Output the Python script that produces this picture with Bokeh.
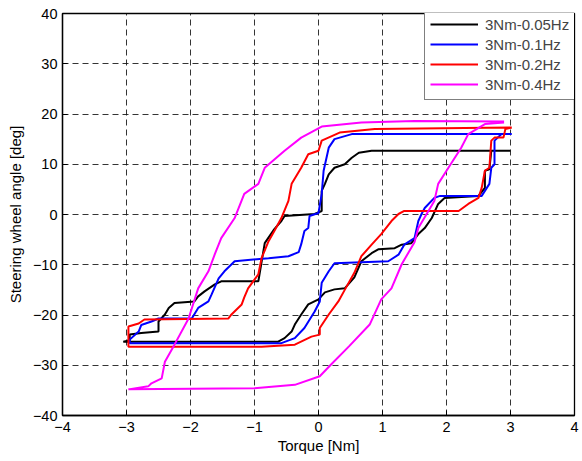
from bokeh.plotting import figure
from bokeh.models import Range1d, FixedTicker, Legend, LegendItem
from bokeh.embed import file_html
from bokeh.resources import INLINE

# ---- data ----
black_x = [3.0, 0.83, 0.63, 0.52, 0.41, 0.25, 0.16, 0.10, 0.05, 0.05, -0.06, -0.53, -0.58, -0.69, -0.84, -0.94,
           -1.52, -1.62, -1.78, -1.88, -1.94, -2.25, -2.34, -2.40, -2.50, -2.50, -2.77, -2.95, -2.95, -3.05,
           -0.63, -0.53, -0.42, -0.37, -0.27, -0.16, 0.0, 0.10, 0.25, 0.41, 0.56, 0.67, 0.83, 0.94, 1.19, 1.30,
           1.45, 1.56, 1.66, 1.77, 1.87, 1.97, 2.50, 2.60, 2.60, 2.67, 2.70, 3.0]
black_y = [12.7, 12.7, 12.3, 11.3, 10.0, 9.3, 8.0, 6.1, 4.7, 0.7, 0.1, -0.3, -1.3, -2.9, -5.7, -13.3,
           -13.3, -13.9, -15.3, -16.3, -17.3, -17.6, -18.6, -19.9, -21.3, -23.3, -23.6, -23.9, -25.0, -25.3,
           -25.3, -24.6, -23.3, -21.9, -19.9, -17.9, -16.9, -15.5, -14.9, -14.7, -12.5, -9.3, -7.7, -6.9, -6.7, -6.0,
           -5.7, -3.9, -2.7, -0.7, 2.1, 3.3, 3.7, 5.3, 8.7, 9.0, 12.7, 12.7]

blue_x = [3.02, 0.52, 0.25, 0.16, 0.08, 0.05, 0.0, -0.14, -0.16, -0.22, -0.27, -0.31, -0.47, -0.78, -1.31,
          -1.47, -1.56, -1.67, -1.72, -1.88, -1.98, -2.5, -2.61, -2.77, -2.81, -2.95, -2.95,
          -0.58, -0.37, -0.22, -0.06, 0.02, 0.05, 0.16, 0.25, 1.09, 1.25, 1.34, 1.5, 1.56, 1.61, 1.66, 1.81,
          1.9, 2.55, 2.6, 2.67, 2.7, 2.75, 2.75, 2.86, 3.02]
blue_y = [16.0, 16.0, 15.0, 13.3, 8.7, 4.1, 0.3, -0.3, -2.7, -3.3, -5.9, -7.5, -8.3, -8.7, -9.3,
          -11.3, -12.7, -15.9, -17.3, -18.6, -20.7, -20.7, -21.3, -22.0, -23.3, -24.9, -25.6,
          -25.6, -24.6, -22.6, -19.3, -17.3, -13.6, -11.3, -9.7, -9.3, -8.0, -6.0, -4.7, -1.3, 0.1, 1.3, 3.3,
          3.7, 3.7, 4.7, 6.1, 9.3, 10.0, 14.7, 16.0, 16.0]

red_x = [3.02, 0.88, 0.33, 0.05, 0.0, -0.16, -0.27, -0.42, -0.47, -0.58, -0.69, -0.78, -0.89, -0.94, -1.1,
         -1.16, -1.2, -1.36, -1.41, -2.72, -2.81, -2.97, -2.97,
         -0.89, -0.37, -0.11, 0.02, 0.02, 0.16, 0.31, 0.41, 0.56, 0.67, 0.83, 0.98, 1.14, 1.25, 1.34, 2.19,
         2.34, 2.5, 2.55, 2.6, 2.67, 2.7, 2.75, 2.89, 2.92, 3.02]
red_y = [17.3, 17.0, 16.3, 14.7, 12.7, 12.0, 9.3, 6.1, 2.7, -0.7, -3.3, -5.3, -8.7, -11.9, -14.7,
         -16.5, -17.9, -19.9, -20.7, -20.9, -21.7, -22.3, -26.3,
         -26.3, -25.9, -24.3, -23.9, -22.6, -19.9, -17.3, -15.0, -11.6, -8.3, -6.0, -3.9, -1.3, 0.1, 0.7, 0.7,
         2.1, 3.3, 5.3, 8.7, 9.3, 14.7, 15.3, 15.3, 17.0, 17.3]

magenta_x = [2.9, 1.5, 0.67, 0.05, -0.27, -0.53, -0.84, -0.94, -1.16, -1.31, -1.52, -1.62, -1.72, -1.88,
             -2.03, -2.25, -2.4, -2.45, -2.61, -2.66, -2.97,
             -1.0, -0.37, 0.02, 0.2, 0.48, 0.8, 0.98, 1.14, 1.3, 1.5, 1.56, 1.81, 1.87, 2.03, 2.23, 2.34,
             2.6, 2.9]
magenta_y = [18.5, 18.6, 18.3, 17.5, 15.3, 12.7, 9.3, 6.1, 4.1, -0.7, -4.7, -7.9, -11.3, -14.7,
             -20.7, -25.9, -29.3, -32.6, -33.6, -34.2, -34.8,
             -34.6, -33.9, -32.2, -29.8, -26.2, -21.9, -16.9, -14.7, -9.9, -5.5, -2.7, 2.7, 6.1, 9.3, 13.3, 16.0,
             18.0, 18.3]

series_names = ["3Nm-0.05Hz", "3Nm-0.1Hz", "3Nm-0.2Hz", "3Nm-0.4Hz"]
series_colors = ["#000000", "#0000ff", "#ff0000", "#ff00ff"]
x_ticks = [-4, -3, -2, -1, 0, 1, 2, 3, 4]
y_ticks = [-40, -30, -20, -10, 0, 10, 20, 30, 40]

FONT = "Liberation Sans"

p = figure(width=580, height=458, output_backend="svg", toolbar_location=None,
           x_range=Range1d(-4, 4), y_range=Range1d(-40, 40),
           min_border_left=62, min_border_right=6, min_border_top=13, min_border_bottom=43)
p.background_fill_color = "white"
p.border_fill_color = "white"
p.outline_line_color = "black"
p.outline_line_width = 1.3

for ax in (p.xaxis[0], p.yaxis[0]):
    ax.major_tick_in = 5
    ax.major_tick_out = 0
    ax.minor_tick_in = 0
    ax.minor_tick_out = 0
    ax.axis_line_color = "black"
    ax.axis_line_width = 1.3
    ax.major_tick_line_color = "black"
    ax.major_label_text_font = FONT
    ax.major_label_text_font_size = "14.5px"
    ax.major_label_text_color = "black"
    ax.axis_label_text_font = FONT
    ax.axis_label_text_font_size = "15px"
    ax.axis_label_text_font_style = "normal"
    ax.axis_label_text_color = "black"

p.xaxis.ticker = FixedTicker(ticks=x_ticks)
p.yaxis.ticker = FixedTicker(ticks=y_ticks)
p.xaxis.major_label_standoff = 6
p.yaxis.major_label_standoff = 5
p.xaxis.axis_label = "Torque [Nm]"
p.yaxis.axis_label = "Steering wheel angle [deg]"
p.xaxis.axis_label_standoff = 2
p.yaxis.axis_label_standoff = 6

p.grid.grid_line_color = "#111111"
p.grid.grid_line_dash = "6 4"
p.grid.grid_line_width = 1
p.grid.grid_line_alpha = 0.85

xs = [black_x, blue_x, red_x, magenta_x]
ys = [black_y, blue_y, red_y, magenta_y]
items = []
for x, y, c, n in zip(xs, ys, series_colors, series_names):
    r = p.line(x, y, line_color=c, line_width=2)
    items.append(LegendItem(label=n, renderers=[r]))

legend = Legend(items=items, location=(362, 315), margin=0, padding=5, spacing=0,
                glyph_width=48, glyph_height=20, label_height=20, label_standoff=7,
                label_text_font=FONT, label_text_font_size="15px",
                border_line_color="black", border_line_width=1.3,
                background_fill_color="white", background_fill_alpha=1)
p.add_layout(legend)

open("out.html", "w").write(file_html(p, INLINE))
